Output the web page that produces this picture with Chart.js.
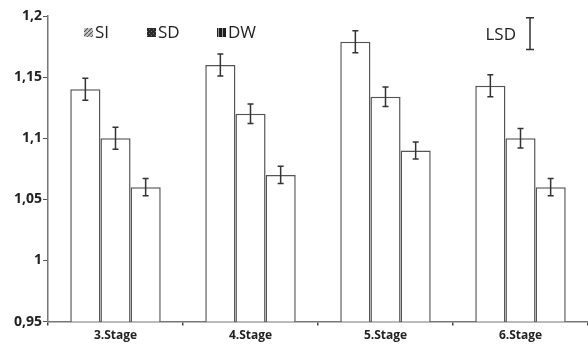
<!DOCTYPE html>
<html>
<head>
<meta charset="utf-8">
<script src="https://cdn.jsdelivr.net/npm/chart.js@4/dist/chart.umd.min.js"></script>
<style>
  html, body { margin: 0; padding: 0; background: #fff; }
  #wrap { width: 588px; height: 346px; }
</style>
</head>
<body>
<div id="wrap"><canvas id="chart"></canvas></div>
<script>
// data
const stages = ["3.Stage", "4.Stage", "5.Stage", "6.Stage"];
const seriesNames = ["SI", "SD", "DW"];
const siValues = [1.14, 1.16, 1.179, 1.143];
const sdValues = [1.10, 1.12, 1.134, 1.10];
const dwValues = [1.06, 1.07, 1.09, 1.06];
const siErr = [0.009, 0.009, 0.009, 0.009];
const sdErr = [0.009, 0.008, 0.008, 0.008];
const dwErr = [0.007, 0.007, 0.007, 0.007];
const lsdValue = 0.026;
const yTicks = [0.95, 1, 1.05, 1.1, 1.15, 1.2];

function makePattern(kind) {
  const c = document.createElement("canvas");
  c.width = 4; c.height = 4;
  const g = c.getContext("2d");
  if (kind === "SI") {
    g.fillStyle = "#ccc"; g.fillRect(0, 0, 4, 4);
    g.strokeStyle = "#555"; g.lineWidth = 1.2;
    g.beginPath(); g.moveTo(0, 4); g.lineTo(4, 0); g.stroke();
  } else if (kind === "SD") {
    g.fillStyle = "#2a2a2a"; g.fillRect(0, 0, 4, 4);
    g.fillStyle = "#777"; g.fillRect(1, 1, 1, 1); g.fillRect(3, 3, 1, 1);
  } else {
    g.fillStyle = "#1e1e1e"; g.fillRect(0, 0, 4, 4);
    g.fillStyle = "#999"; g.fillRect(2, 0, 1, 4);
  }
  return g.createPattern(c, "repeat");
}

const errors = [siErr, sdErr, dwErr];

const errorBars = {
  id: "errorBars",
  afterDatasetsDraw(chart) {
    const ctx = chart.ctx;
    const y = chart.scales.y;
    ctx.save();
    ctx.strokeStyle = "#333";
    ctx.lineWidth = 1.5;
    chart.data.datasets.forEach((ds, i) => {
      const meta = chart.getDatasetMeta(i);
      meta.data.forEach((bar, j) => {
        const v = ds.data[j];
        const e = errors[i][j];
        const top = y.getPixelForValue(v + e);
        const bot = y.getPixelForValue(v - e);
        ctx.beginPath();
        ctx.moveTo(bar.x, top); ctx.lineTo(bar.x, bot);
        ctx.moveTo(bar.x - 3, top); ctx.lineTo(bar.x + 3, top);
        ctx.moveTo(bar.x - 3, bot); ctx.lineTo(bar.x + 3, bot);
        ctx.stroke();
      });
    });

    // LSD marker
    const lx = chart.chartArea.right - 58;
    const lTop = y.getPixelForValue(1.1985);
    const lBot = y.getPixelForValue(1.1985 - lsdValue);
    ctx.beginPath();
    ctx.moveTo(lx, lTop); ctx.lineTo(lx, lBot);
    ctx.moveTo(lx - 4, lTop); ctx.lineTo(lx + 4, lTop);
    ctx.moveTo(lx - 4, lBot); ctx.lineTo(lx + 4, lBot);
    ctx.stroke();
    ctx.fillStyle = "#222";
    ctx.font = "17px 'Open Sans'";
    ctx.textAlign = "right";
    ctx.textBaseline = "middle";
    ctx.fillText("LSD", lx - 14, (lTop + lBot) / 2 + 1);

    // legend
    const legendX = [84, 147, 217];
    ctx.textAlign = "left";
    ctx.font = "17px 'Open Sans'";
    seriesNames.forEach((n, i) => {
      ctx.fillStyle = makePattern(n);
      ctx.fillRect(legendX[i], 28, 9, 9);
      ctx.fillStyle = "#222";
      ctx.fillText(n, legendX[i] + 11, 33);
    });
    ctx.restore();
  }
};

const ctx = document.getElementById("chart").getContext("2d");
new Chart(ctx, {
  type: "bar",
  data: {
    labels: stages,
    datasets: [siValues, sdValues, dwValues].map((vals, i) => ({
      label: seriesNames[i],
      data: vals,
      backgroundColor: "#fff",
      borderColor: "#555",
      borderWidth: 1.5,
      categoryPercentage: 0.67,
      barPercentage: 1.0
    }))
  },
  options: {
    responsive: true,
    maintainAspectRatio: false,
    animation: false,
    layout: { padding: { top: 16, right: 0, left: 0, bottom: 0 } },
    plugins: {
      legend: { display: false },
      tooltip: { enabled: false }
    },
    scales: {
      x: {
        offset: true,
        grid: {
          display: true,
          offset: true,
          drawOnChartArea: false,
          drawTicks: true,
          tickLength: 4,
          lineWidth: 1.5,
          color: "#444"
        },
        border: { color: "#777", width: 1.5 },
        ticks: {
          color: "#222",
          font: { family: "'Open Sans'", size: 12, weight: "bold" },
          padding: 3
        }
      },
      y: {
        min: 0.95,
        max: 1.2,
        afterBuildTicks: (scale) => { scale.ticks = yTicks.map(v => ({ value: v })); },
        afterFit: (scale) => { scale.width = 48; },
        grid: {
          drawOnChartArea: false,
          tickLength: 5,
          color: "#555"
        },
        border: { color: "#777", width: 1.5 },
        ticks: {
          color: "#222",
          font: { family: "'Open Sans'", size: 14, weight: "bold" },
          padding: 1,
          callback: (v) => (Math.round(v * 100) / 100).toString().replace(".", ",")
        }
      }
    }
  },
  plugins: [errorBars]
});
</script>
</body>
</html>
